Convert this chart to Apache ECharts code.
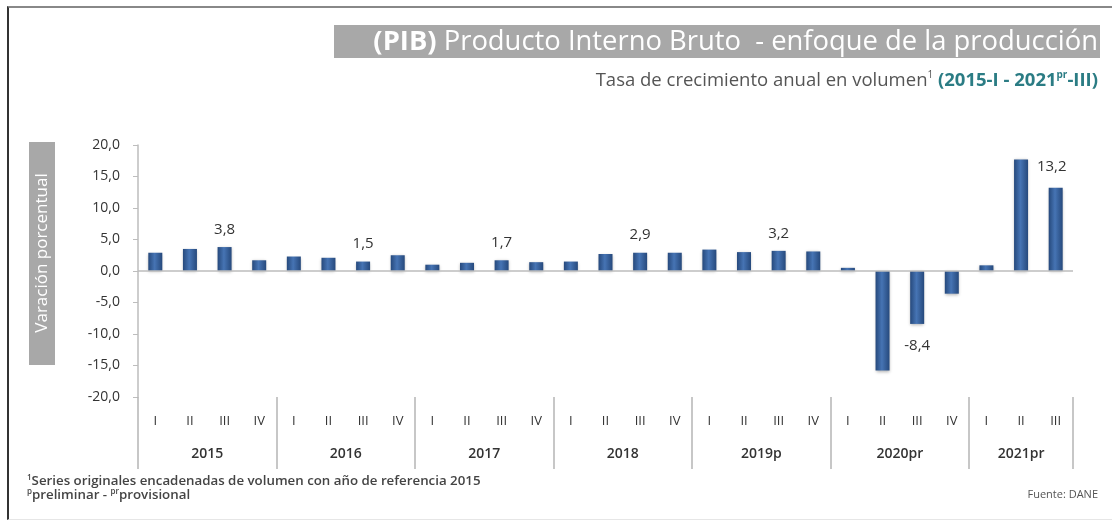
<!DOCTYPE html>
<html>
<head>
<meta charset="utf-8">
<script src="https://cdn.jsdelivr.net/npm/echarts@6/dist/echarts.min.js"></script>
<style>
  html, body { margin: 0; padding: 0; background: #fff; }
  #chart { position: absolute; left: 0; top: 0; width: 1112px; height: 523px; }
  .frame {
    position: absolute; left: 7px; top: 6px; width: 1105px; height: 514px;
    border-left: 2px solid #333; border-top: 2px solid #888; border-bottom: 1px solid #e6e6e6;
    box-sizing: border-box; pointer-events: none;
  }
</style>
</head>
<body>
<div id="chart"></div>
<div class="frame"></div>
<script>
// años y número de trimestres publicados
const years = ["2015", "2016", "2017", "2018", "2019p", "2020pr", "2021pr"];
const quartersPerYear = [4, 4, 4, 4, 4, 4, 3];
const quarterNames = ["I", "II", "III", "IV"];

// tasa de crecimiento anual (%), 2015-I ... 2021-III
const growth = [
  2.9, 3.5, 3.8, 1.7,
  2.3, 2.1, 1.5, 2.5,
  1.0, 1.3, 1.7, 1.4,
  1.5, 2.7, 2.9, 2.9,
  3.4, 3.0, 3.2, 3.1,
  0.5, -15.8, -8.4, -3.6,
  0.9, 17.7, 13.2
];
// trimestres que llevan etiqueta de valor
const labeled = [2, 6, 10, 14, 18, 22, 26];

const yTicks = { min: -20, max: 20, interval: 5 };

// categorías del eje x
let quarterCats = [];
let yearCats = [];
years.forEach(function (y, i) {
  for (let q = 0; q < quartersPerYear[i]; q++) {
    quarterCats.push(y + "-" + quarterNames[q]);
    let mid = Math.floor((quartersPerYear[i] - 1) / 2);
    if (q === mid) {
      // con 4 trimestres el rótulo va entre el 2do y 3ro
      yearCats.push(quartersPerYear[i] % 2 === 0 ? "{sp|}{y|" + y + "}" : "{y|" + y + "}");
    } else {
      yearCats.push(y + "#" + q);
    }
  }
});

const gridLeft = 138, gridRight = 39;
const catW = (1112 - gridLeft - gridRight) / quarterCats.length;

let barData = growth.map(function (v, i) {
  let item = { value: v };
  if (labeled.indexOf(i) >= 0) {
    let neg = v < 0;
    item.label = {
      show: true,
      position: neg ? "bottom" : "top",
      distance: v > 10 || neg ? 14 : 10,
      offset: v > 10 ? [-4, 0] : [0, 0],
      formatter: function (p) {
        return p.value.toFixed(1).replace(".", ",");
      },
      color: "#333",
      fontSize: 15,
      fontFamily: "Open Sans"
    };
  }
  return item;
});

let myChart = echarts.init(document.getElementById("chart"));
let option = {
  animation: false,
  grid: { left: gridLeft, right: gridRight, top: 145, bottom: 126 },
  xAxis: [
    {
      type: "category",
      data: quarterCats,
      position: "bottom",
      axisLine: { show: false },
      axisTick: { show: false },
      axisLabel: {
        interval: 0,
        margin: 18,
        color: "#333",
        fontSize: 13,
        fontFamily: "Open Sans",
        formatter: function (v) {
          return v.split("-")[1];
        }
      }
    },
    {
      type: "category",
      data: yearCats,
      position: "bottom",
      axisLine: { show: false },
      axisTick: {
        show: true,
        length: 72,
        interval: function (i) {
          return i % 4 === 0;
        },
        lineStyle: { color: "#b5b5b5", width: 1.5 }
      },
      axisLabel: {
        interval: 0,
        margin: 50,
        formatter: function (v) {
          return v.indexOf("{") === 0 ? v : "";
        },
        rich: {
          sp: { width: catW },
          y: { color: "#333", fontSize: 14, fontFamily: "Open Sans", fontWeight: 600 }
        }
      }
    }
  ],
  yAxis: {
    type: "value",
    min: yTicks.min,
    max: yTicks.max,
    interval: yTicks.interval,
    axisLine: { show: true, lineStyle: { color: "#bdbdbd", width: 1.5 } },
    axisTick: { show: true, length: 5, lineStyle: { color: "#bdbdbd" } },
    splitLine: { show: false },
    axisLabel: {
      margin: 18,
      color: "#333",
      fontSize: 14,
      fontFamily: "Open Sans",
      formatter: function (v) {
        return v.toFixed(1).replace(".", ",");
      }
    }
  },
  series: [
    {
      type: "bar",
      xAxisIndex: 0,
      barWidth: 14,
      data: barData,
      itemStyle: {
        color: {
          type: "linear", x: 0, y: 0, x2: 1, y2: 0,
          colorStops: [
            { offset: 0, color: "#26497c" },
            { offset: 0.45, color: "#4674b4" },
            { offset: 1, color: "#26497c" }
          ]
        },
        shadowColor: "rgba(0,0,0,0.3)",
        shadowBlur: 3,
        shadowOffsetY: 1
      },
      markLine: {
        silent: true,
        symbol: "none",
        label: { show: false },
        lineStyle: { color: "#bdbdbd", width: 1.5, type: "solid" },
        data: [{ yAxis: 0 }]
      }
    }
  ],
  graphic: [
    {
      type: "rect",
      shape: { x: 334, y: 25, width: 766, height: 33 },
      style: { fill: "#a8a8a8" }
    },
    {
      type: "text",
      x: 1098,
      y: 42,
      style: {
        text: "{b|(PIB)}{n| Producto Interno Bruto  - enfoque de la producción}",
        align: "right",
        verticalAlign: "middle",
        rich: {
          b: { fill: "#fff", fontSize: 27.4, fontWeight: "bold", fontFamily: "Open Sans" },
          n: { fill: "#fff", fontSize: 27.4, fontFamily: "Open Sans" }
        }
      }
    },
    {
      type: "text",
      x: 1098,
      y: 81,
      style: {
        text: "{a|Tasa de crecimiento anual en volumen}{s|1}{a| }{b|(2015-I - 2021}{t|pr}{b|-III)}",
        align: "right",
        verticalAlign: "middle",
        rich: {
          a: { fill: "#555", fontSize: 18.5, fontFamily: "Open Sans", lineHeight: 22 },
          s: { fill: "#555", fontSize: 10, fontFamily: "Open Sans", verticalAlign: "top", lineHeight: 22 },
          b: { fill: "#2b7c84", fontSize: 18.5, fontWeight: "bold", fontFamily: "Open Sans", lineHeight: 22 },
          t: { fill: "#2b7c84", fontSize: 10, fontWeight: "bold", fontFamily: "Open Sans", verticalAlign: "top", lineHeight: 22 }
        }
      }
    },
    {
      type: "rect",
      shape: { x: 29, y: 142, width: 26, height: 223 },
      style: { fill: "#a8a8a8" }
    },
    {
      type: "text",
      x: 42,
      y: 253,
      rotation: Math.PI / 2,
      style: {
        text: "Varación porcentual",
        fill: "#fff",
        fontSize: 17,
        fontFamily: "Open Sans",
        align: "center",
        verticalAlign: "middle"
      }
    },
    {
      type: "text",
      x: 27,
      y: 481,
      style: {
        text: "{s|1}{n|Series originales encadenadas de volumen con año de referencia 2015}",
        verticalAlign: "middle",
        rich: {
          s: { fill: "#444", fontSize: 8, fontWeight: 600, fontFamily: "Open Sans", verticalAlign: "top", lineHeight: 15 },
          n: { fill: "#444", fontSize: 13.3, fontWeight: 600, fontFamily: "Open Sans", lineHeight: 15 }
        }
      }
    },
    {
      type: "text",
      x: 27,
      y: 495,
      style: {
        text: "{s|p}{n|preliminar - }{s|pr}{n|provisional}",
        verticalAlign: "middle",
        rich: {
          s: { fill: "#444", fontSize: 8, fontWeight: 600, fontFamily: "Open Sans", verticalAlign: "top", lineHeight: 15 },
          n: { fill: "#444", fontSize: 13.3, fontWeight: 600, fontFamily: "Open Sans", lineHeight: 15 }
        }
      }
    },
    {
      type: "text",
      x: 1098,
      y: 495,
      style: {
        text: "Fuente: DANE",
        fill: "#555",
        fontSize: 11,
        fontFamily: "Open Sans",
        align: "right",
        verticalAlign: "middle"
      }
    }
  ]
};
myChart.setOption(option);
</script>
</body>
</html>
